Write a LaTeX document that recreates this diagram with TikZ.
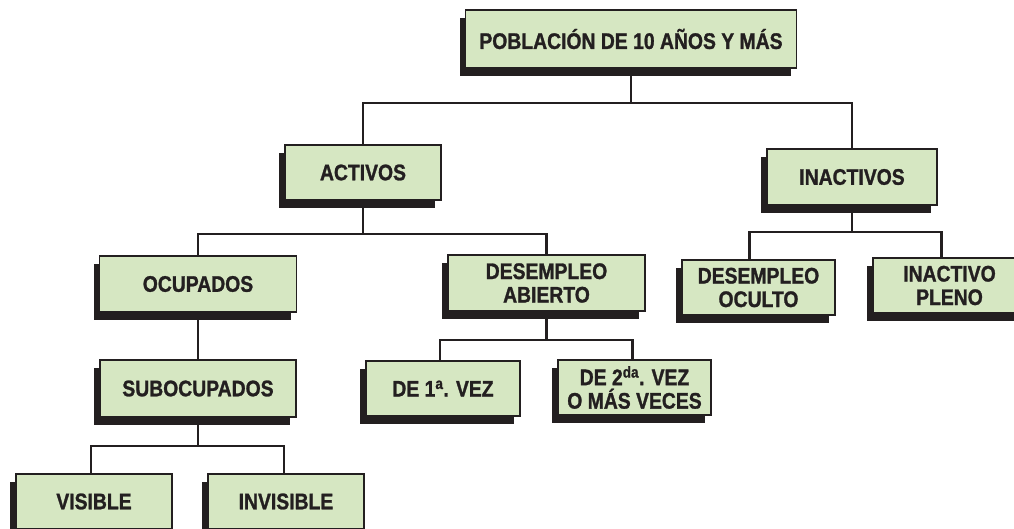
\documentclass[tikz,border=0pt]{standalone}
\usepackage{fontspec}
\usepackage{tikz}
\usetikzlibrary{shadows}
\newfontfamily\boxfont{Liberation Sans}[FakeStretch=0.86, FakeBold=1.2]
\definecolor{boxgreen}{HTML}{D6E7C2}
\definecolor{boxink}{HTML}{231F20}

\begin{document}
\begin{tikzpicture}[x=1pt, y=-1pt,
    box/.style={draw=boxink, line width=1.8pt, fill=boxgreen, text=boxink,
      align=center, inner sep=0pt,
      font=\boxfont\bfseries\fontsize{22.5}{23.5}\selectfont,
      drop shadow={shadow xshift=-6pt, shadow yshift=-8pt, fill=boxink, opacity=1}},
    bus/.style={draw=boxink, line width=2.2pt}]
      \useasboundingbox (0,0) rectangle (1014,528);
      \clip (0,0) rectangle (1014,528);
      % boxes
      \node[box, minimum width=331, minimum height=58] (pob) at (631, 39)
        {POBLACIÓN DE 10 AÑOS Y MÁS};
      \node[box, minimum width=156, minimum height=55] (act) at (363, 172.5) {ACTIVOS};
      \node[box, minimum width=170, minimum height=56] (inact) at (852, 177) {INACTIVOS};
      \node[box, minimum width=197, minimum height=56] (ocu) at (198, 284) {OCUPADOS};
      \node[box, minimum width=197, minimum height=56] (des) at (546.5, 283)
        {DESEMPLEO\\ABIERTO};
      \node[box, minimum width=196, minimum height=57] (sub) at (198, 388.5) {SUBOCUPADOS};
      \node[box, minimum width=154, minimum height=55] (vez1) at (443, 388.5)
        {DE 1\textsuperscript{a}. VEZ};
      \node[box, minimum width=153, minimum height=55] (vez2) at (634.5, 387.5)
        {DE 2\textsuperscript{da}. VEZ\\O MÁS VECES};
      \node[box, minimum width=153, minimum height=55] (oculto) at (758.5, 287.5)
        {DESEMPLEO\\OCULTO};
      \node[box, minimum width=153, minimum height=55] (pleno) at (949.5, 285.5)
        {INACTIVO\\PLENO};
      \node[box, minimum width=156, minimum height=55] (vis) at (94, 501.5) {VISIBLE};
      \node[box, minimum width=156, minimum height=55] (invis) at (286, 501.5) {INVISIBLE};
      % connectors
      \draw[bus] (pob.south) -- ++(0,34) coordinate (b1);
      \draw[bus] (act.north) |- (b1) -| (inact.north);
      \draw[bus] (act.south) -- ++(0,33) coordinate (b2);
      \draw[bus] (ocu.north) |- (b2) -| (des.north);
      \draw[bus] (ocu.south) -- (sub.north);
      \draw[bus] (des.south) -- ++(0,28) coordinate (b3);
      \draw[bus] ([xshift=-3pt]vez1.north) |- (b3) -| ([xshift=-2pt]vez2.north);
      \draw[bus] (inact.south) -- ++(0,26) coordinate (b4);
      \draw[bus] ([xshift=-9pt]oculto.north) |- (b4) -| ([xshift=-8pt]pleno.north);
      \draw[bus] (sub.south) -- ++(0,28) coordinate (b5);
      \draw[bus] ([xshift=-3pt]vis.north) |- (b5) -| ([xshift=-2pt]invis.north);
    \end{tikzpicture}
\end{document}
